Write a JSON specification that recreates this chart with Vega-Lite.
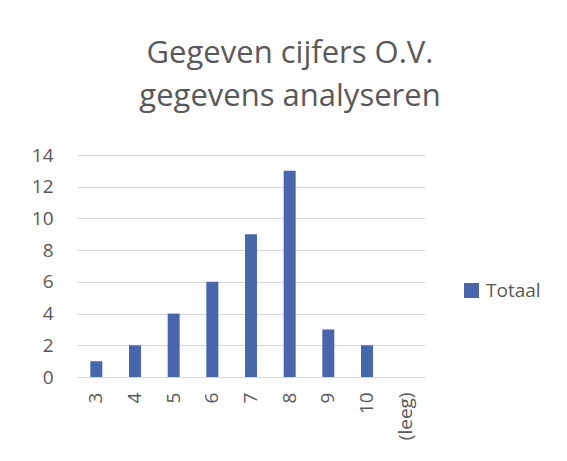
{
  "$schema": "https://vega.github.io/schema/vega-lite/v6.json",
  "width": 348,
  "height": 222,
  "autosize": {"type": "none"},
  "padding": {"left": 77, "top": 155, "right": 142, "bottom": 84},
  "background": "white",
  "title": {
    "text": ["Gegeven cijfers O.V.", "gegevens analyseren"],
    "font": "Open Sans",
    "fontSize": 31,
    "fontWeight": "normal",
    "color": "#595959",
    "anchor": "middle",
    "frame": "group",
    "dx": 39,
    "baseline": "alphabetic",
    "lineHeight": 43,
    "offset": 9
  },
  "data": {
    "values": [
      {"cijfer": "3", "aantal": 1, "serie": "Totaal"},
      {"cijfer": "4", "aantal": 2, "serie": "Totaal"},
      {"cijfer": "5", "aantal": 4, "serie": "Totaal"},
      {"cijfer": "6", "aantal": 6, "serie": "Totaal"},
      {"cijfer": "7", "aantal": 9, "serie": "Totaal"},
      {"cijfer": "8", "aantal": 13, "serie": "Totaal"},
      {"cijfer": "9", "aantal": 3, "serie": "Totaal"},
      {"cijfer": "10", "aantal": 2, "serie": "Totaal"},
      {"cijfer": "(leeg)", "aantal": null, "serie": "Totaal"}
    ]
  },
  "mark": {"type": "bar"},
  "encoding": {
    "x": {
      "field": "cijfer",
      "type": "nominal",
      "sort": null,
      "scale": {"domain": ["3","4","5","6","7","8","9","10","(leeg)"], "paddingInner": 0.69, "paddingOuter": 0.345},
      "axis": {
        "title": null,
        "labelAngle": -90,
        "labelAlign": "right",
        "labelBaseline": "middle",
        "labelFont": "Open Sans",
        "labelFontSize": 19,
        "labelColor": "#595959",
        "labelPadding": 15,
        "ticks": false,
        "domainColor": "#d9d9d9",
        "domainWidth": 1
      }
    },
    "y": {
      "field": "aantal",
      "type": "quantitative",
      "scale": {"domain": [0, 14], "nice": false},
      "axis": {
        "title": null,
        "values": [0, 2, 4, 6, 8, 10, 12, 14],
        "labelFont": "Open Sans",
        "labelFontSize": 19,
        "labelColor": "#595959",
        "labelPadding": 24,
        "ticks": false,
        "domain": false,
        "gridColor": "#d9d9d9",
        "gridWidth": 1
      }
    },
    "color": {
      "field": "serie",
      "type": "nominal",
      "scale": {"range": ["#4866AD"]},
      "legend": {
        "title": null,
        "orient": "none",
        "legendX": 385,
        "legendY": 126,
        "symbolType": "square",
        "symbolSize": 225,
        "symbolStrokeWidth": 0,
        "labelFont": "Open Sans",
        "labelFontSize": 19,
        "labelColor": "#595959",
        "labelOffset": 5
      }
    }
  },
  "config": {"view": {"stroke": null}}
}
